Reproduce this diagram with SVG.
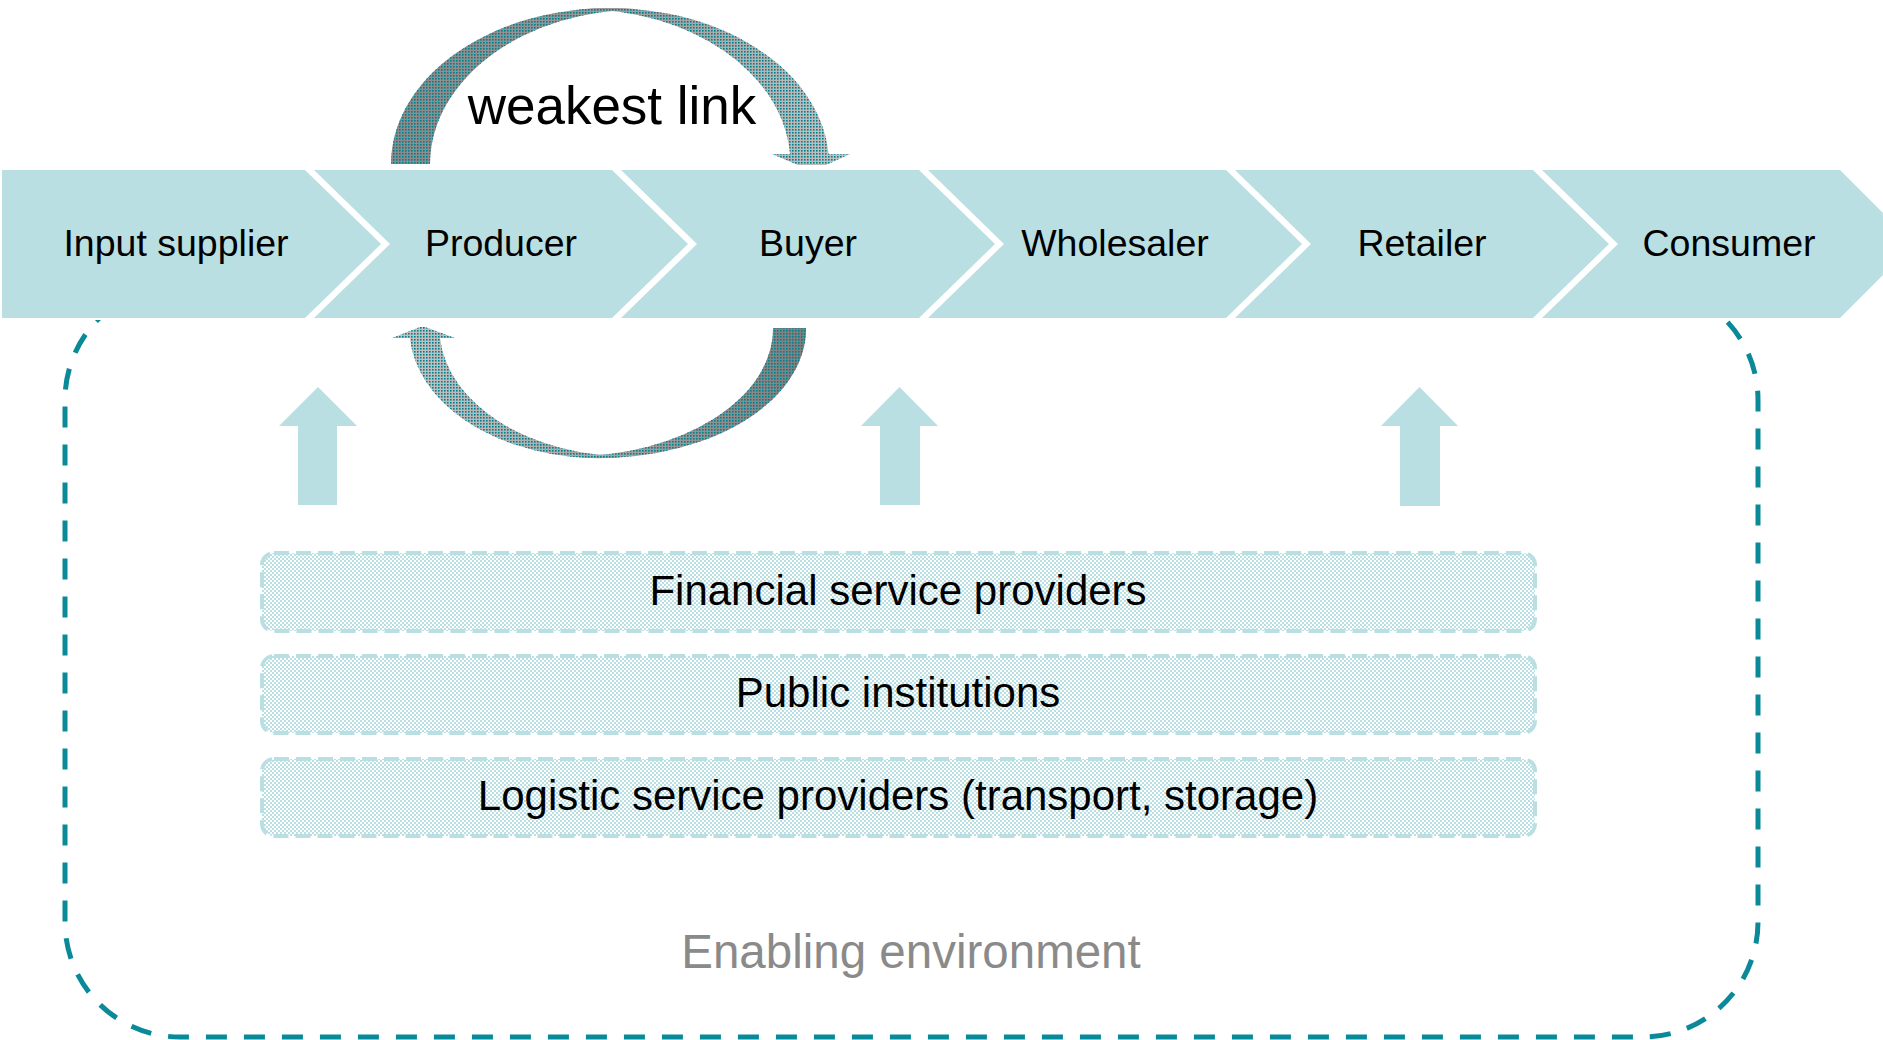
<svg xmlns="http://www.w3.org/2000/svg" width="1883" height="1040" viewBox="0 0 1883 1040">
  <style>
    .chev { fill: #B9DFE2; }
    .lbl { font-family: "Liberation Sans", Arial, sans-serif; font-size: 37.5px; fill: #000; text-anchor: middle; }
    .blbl { font-family: "Liberation Sans", Arial, sans-serif; font-size: 42px; fill: #000; text-anchor: middle; }
    .up { fill: #B9DFE2; }
    .svc { fill: url(#check); stroke: #B9DFE2; stroke-width: 4; stroke-dasharray: 15 7; }
    .env { fill: none; stroke: #0A8A99; stroke-width: 5; stroke-dasharray: 21 17; }
  </style>
  <defs>
    <!-- light teal checker used inside the service bars -->
    <pattern id="check" patternUnits="userSpaceOnUse" width="4" height="4">
      <rect width="4" height="4" fill="#FFFFFF"/>
      <rect x="0" y="0" width="2" height="2" fill="#B9DFE2"/>
      <rect x="2" y="2" width="2" height="2" fill="#B9DFE2"/>
    </pattern>
    <!-- teal dot screen over the curved arrows -->
    <pattern id="dots" patternUnits="userSpaceOnUse" width="3" height="3">
      <rect x="0" y="0" width="1.6" height="1.6" fill="#007F8C"/>
    </pattern>
    <linearGradient id="greyTop" gradientUnits="userSpaceOnUse" x1="391" y1="0" x2="850" y2="0">
      <stop offset="0" stop-color="#8A8A8A"/>
      <stop offset="0.5" stop-color="#9A9A9A"/>
      <stop offset="1" stop-color="#C4C4C4"/>
    </linearGradient>
    <linearGradient id="greyBot" gradientUnits="userSpaceOnUse" x1="392" y1="0" x2="806" y2="0">
      <stop offset="0" stop-color="#C4C4C4"/>
      <stop offset="0.5" stop-color="#A6A6A6"/>
      <stop offset="1" stop-color="#7E7E7E"/>
    </linearGradient>
  </defs>

  <rect width="1883" height="1040" fill="#FFFFFF"/>

  <!-- enabling environment frame -->
  <g id="enabling-environment">
    <rect class="env" x="65" y="285" width="1693" height="752" rx="115" ry="115"/>
    <text x="911" y="968" font-family="'Liberation Sans', Arial, sans-serif" font-size="47.5" fill="#8A8A8A" text-anchor="middle">Enabling environment</text>
  </g>

  <!-- white strip behind the stages so the frame's top edge stays hidden in the gaps -->
  <rect x="0" y="168" width="1883" height="152" fill="#FFFFFF"/>

  <!-- value chain stages -->
  <g id="input-supplier">
    <polygon class="chev" points="2,170 305,170 381,244 305,318 2,318"/>
    <text class="lbl" x="176" y="256">Input supplier</text>
  </g>
  <g id="producer">
    <polygon class="chev" points="314,170 612,170 688,244 612,318 314,318 390,244"/>
    <text class="lbl" x="501" y="256">Producer</text>
  </g>
  <g id="buyer">
    <polygon class="chev" points="621,170 919,170 995,244 919,318 621,318 697,244"/>
    <text class="lbl" x="808" y="256">Buyer</text>
  </g>
  <g id="wholesaler">
    <polygon class="chev" points="928,170 1226,170 1302,244 1226,318 928,318 1004,244"/>
    <text class="lbl" x="1115" y="256">Wholesaler</text>
  </g>
  <g id="retailer">
    <polygon class="chev" points="1235,170 1533,170 1609,244 1533,318 1235,318 1311,244"/>
    <text class="lbl" x="1422" y="256">Retailer</text>
  </g>
  <g id="consumer">
    <polygon class="chev" points="1542,170 1840,170 1914,244 1840,318 1542,318 1618,244"/>
    <text class="lbl" x="1729" y="256">Consumer</text>
  </g>

  <!-- supporting services -->
  <g id="financial-services">
    <rect class="svc" x="262" y="553" width="1273" height="78" rx="12" ry="12"/>
    <text class="blbl" x="898" y="605">Financial service providers</text>
  </g>
  <g id="public-institutions">
    <rect class="svc" x="262" y="656" width="1273" height="77" rx="12" ry="12"/>
    <text class="blbl" x="898" y="707">Public institutions</text>
  </g>
  <g id="logistic-services">
    <rect class="svc" x="262" y="759" width="1273" height="77" rx="12" ry="12"/>
    <text class="blbl" x="898" y="810">Logistic service providers (transport, storage)</text>
  </g>

  <!-- connectors -->
  <g id="connectors">
    <!-- weakest link loop, producer to buyer (over the top) -->
    <g id="loop-top">
      <path d="M580,9.5 A219,156 0 0 1 828.5,154 L790,154 A210,155 0 0 0 580,9 Z" fill="url(#greyTop)"/>
      <path d="M580,9.5 A219,156 0 0 1 828.5,154 L790,154 A210,155 0 0 0 580,9 Z" fill="url(#dots)"/>
      <polygon points="772,154 850,154 826,165 798,165" fill="url(#greyTop)"/>
      <polygon points="772,154 850,154 826,165 798,165" fill="url(#dots)"/>
      <path d="M391,164 A219,156 0 0 1 640,9.5 A210,155 0 0 0 430,164 Z" fill="url(#greyTop)"/>
      <path d="M391,164 A219,156 0 0 1 640,9.5 A210,155 0 0 0 430,164 Z" fill="url(#dots)"/>
      <text x="612" y="124" font-family="'Liberation Sans', Arial, sans-serif" font-size="53" fill="#000" text-anchor="middle">weakest link</text>
    </g>
    <!-- return loop, buyer back to producer (underneath) -->
    <g id="loop-bottom">
      <path d="M806,328 A206,129 0 0 1 570,456.5 A203,128 0 0 0 773,328 Z" fill="url(#greyBot)"/>
      <path d="M806,328 A206,129 0 0 1 570,456.5 A203,128 0 0 0 773,328 Z" fill="url(#dots)"/>
      <path d="M410,338 A190,129 0 0 0 630,456.5 A190,128 0 0 1 440,338 Z" fill="url(#greyBot)"/>
      <path d="M410,338 A190,129 0 0 0 630,456.5 A190,128 0 0 1 440,338 Z" fill="url(#dots)"/>
      <polygon points="392,338 455,338 425,327 420,327" fill="url(#greyBot)"/>
      <polygon points="392,338 455,338 425,327 420,327" fill="url(#dots)"/>
    </g>
    <!-- support arrows -->
    <polygon class="up" points="318,387 357,426 337,426 337,505 298,505 298,426 279,426"/>
    <polygon class="up" points="899.5,387 938,426 920,426 920,505 880,505 880,426 861,426"/>
    <polygon class="up" points="1419.5,387 1458,426 1440,426 1440,506 1400,506 1400,426 1381,426"/>
  </g>
</svg>
